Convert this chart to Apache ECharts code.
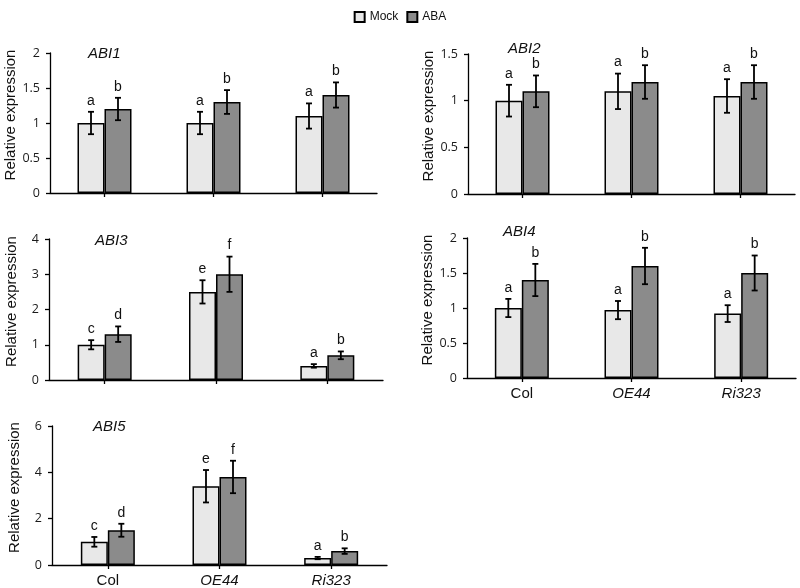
<!DOCTYPE html>
<html>
<head>
<meta charset="utf-8">
<script src="https://cdn.jsdelivr.net/npm/echarts@6/dist/echarts.min.js"></script>
<style>html,body{margin:0;padding:0;background:#fff}#c{width:800px;height:588px}</style>
</head>
<body>
<div id="c"></div>
<script>
const categories = ['Col', 'OE44', 'Ri323'];
const genes = ['ABI1', 'ABI2', 'ABI3', 'ABI4', 'ABI5'];
const seriesNames = ['Mock', 'ABA'];

const abi1Mock = [1.0, 1.0, 1.1];
const abi1MockErr = [0.16, 0.16, 0.18];
const abi1Aba = [1.2, 1.3, 1.4];
const abi1AbaErr = [0.16, 0.17, 0.18];
const abi1MockLetters = ['a', 'a', 'a'];
const abi1AbaLetters = ['b', 'b', 'b'];

const abi2Mock = [1.0, 1.1, 1.05];
const abi2MockErr = [0.17, 0.19, 0.18];
const abi2Aba = [1.1, 1.2, 1.2];
const abi2AbaErr = [0.17, 0.18, 0.18];
const abi2MockLetters = ['a', 'a', 'a'];
const abi2AbaLetters = ['b', 'b', 'b'];

const abi3Mock = [1.0, 2.5, 0.4];
const abi3MockErr = [0.13, 0.33, 0.05];
const abi3Aba = [1.3, 3.0, 0.7];
const abi3AbaErr = [0.22, 0.5, 0.11];
const abi3MockLetters = ['c', 'e', 'a'];
const abi3AbaLetters = ['d', 'f', 'b'];

const abi4Mock = [1.0, 0.97, 0.92];
const abi4MockErr = [0.13, 0.13, 0.12];
const abi4Aba = [1.4, 1.6, 1.5];
const abi4AbaErr = [0.23, 0.26, 0.25];
const abi4MockLetters = ['a', 'a', 'a'];
const abi4AbaLetters = ['b', 'b', 'b'];

const abi5Mock = [1.0, 3.4, 0.3];
const abi5MockErr = [0.21, 0.7, 0.05];
const abi5Aba = [1.5, 3.8, 0.6];
const abi5AbaErr = [0.28, 0.7, 0.12];
const abi5MockLetters = ['c', 'e', 'a'];
const abi5AbaLetters = ['d', 'f', 'b'];

const yMax = [2, 1.5, 4, 2, 6];
const yInterval = [0.5, 0.5, 1, 0.5, 2];

const panels = [
  [abi1Mock, abi1MockErr, abi1Aba, abi1AbaErr, abi1MockLetters, abi1AbaLetters],
  [abi2Mock, abi2MockErr, abi2Aba, abi2AbaErr, abi2MockLetters, abi2AbaLetters],
  [abi3Mock, abi3MockErr, abi3Aba, abi3AbaErr, abi3MockLetters, abi3AbaLetters],
  [abi4Mock, abi4MockErr, abi4Aba, abi4AbaErr, abi4MockLetters, abi4AbaLetters],
  [abi5Mock, abi5MockErr, abi5Aba, abi5AbaErr, abi5MockLetters, abi5AbaLetters]
];

// layout (style only)
const grids = [
  {left: 50, top: 53, width: 327, height: 140},
  {left: 468, top: 54, width: 327, height: 140},
  {left: 49, top: 239, width: 334, height: 141},
  {left: 467, top: 238, width: 329, height: 140},
  {left: 52, top: 426, width: 335, height: 140}
];
const titlePos = [
  {left: 88, top: 46}, {left: 508, top: 41}, {left: 95, top: 233},
  {left: 503, top: 224}, {left: 93, top: 419}
];
const showXLabels = [false, false, false, true, true];
const BAR_W = 27;
const colors = ['#e8e8e8', '#8b8b8b'];

const option = {
  animation: false,
  backgroundColor: '#fff',
  legend: {
    top: 6, left: 'center', icon: 'rect',
    itemWidth: 10, itemHeight: 10, itemGap: 8,
    data: seriesNames,
    textStyle: {fontFamily: 'Liberation Sans', fontSize: 12, color: '#111'}
  },
  title: genes.map((g, i) => ({
    text: g, left: titlePos[i].left, top: titlePos[i].top, padding: 0,
    textStyle: {fontFamily: 'Liberation Sans', fontStyle: 'italic', fontWeight: 'normal', fontSize: 15, color: '#111'}
  })),
  grid: grids.map(g => Object.assign({containLabel: false}, g)),
  xAxis: grids.map((g, i) => ({
    type: 'category', gridIndex: i, data: categories,
    axisLine: {show: true, lineStyle: {color: '#000', width: 1.3}},
    axisTick: {show: true, alignWithLabel: true, length: 4, lineStyle: {color: '#000', width: 1.3}},
    axisLabel: {
      show: showXLabels[i], margin: 8, fontSize: 15, color: '#111',
      formatter: v => v === 'Col' ? '{n|' + v + '}' : '{it|' + v + '}',
      rich: {
        n: {fontFamily: 'Liberation Sans', fontSize: 15, color: '#111'},
        it: {fontFamily: 'Liberation Sans', fontStyle: 'italic', fontSize: 15, color: '#111'}
      }
    }
  })),
  yAxis: grids.map((g, i) => ({
    type: 'value', gridIndex: i, min: 0, max: yMax[i], interval: yInterval[i],
    name: 'Relative expression', nameLocation: 'middle', nameGap: 30,
    nameTextStyle: {fontFamily: 'Liberation Sans', fontSize: 15, color: '#111', padding: [0, 0, 0, 16]},
    axisLine: {show: true, lineStyle: {color: '#000', width: 1.3}},
    axisTick: {show: true, length: 4, lineStyle: {color: '#000', width: 1.3}},
    axisLabel: {margin: 10, fontFamily: 'Open Sans', fontSize: 12.5, color: '#1a1a1a'},
    splitLine: {show: false}
  })),
  series: []
};

panels.forEach((p, i) => {
  const [mv, me, av, ae, ml, al] = p;
  option.series.push({
    name: 'Mock', type: 'bar', xAxisIndex: i, yAxisIndex: i, data: mv,
    barWidth: BAR_W, barGap: '0%',
    itemStyle: {color: colors[0], borderColor: '#000', borderWidth: 1.5}
  });
  option.series.push({
    name: 'ABA', type: 'bar', xAxisIndex: i, yAxisIndex: i, data: av,
    barWidth: BAR_W, barGap: '0%',
    itemStyle: {color: colors[1], borderColor: '#000', borderWidth: 1.5}
  });
  const errData = [];
  categories.forEach((c, k) => {
    errData.push([k, mv[k], me[k], -1, ml[k]]);
    errData.push([k, av[k], ae[k], 1, al[k]]);
  });
  option.series.push({
    type: 'custom', xAxisIndex: i, yAxisIndex: i, silent: true, z: 10,
    data: errData,
    renderItem: (params, api) => {
      const k = api.value(0), v = api.value(1), e = api.value(2), side = api.value(3);
      const letter = errData[params.dataIndex][4];
      const top = api.coord([k, v + e]);
      const bot = api.coord([k, v - e]);
      const x = top[0] + side * BAR_W / 2;
      const cap = 3;
      const st = {stroke: '#000', lineWidth: 1.8};
      return {
        type: 'group',
        children: [
          {type: 'line', shape: {x1: x, y1: top[1], x2: x, y2: bot[1]}, style: st},
          {type: 'line', shape: {x1: x - cap, y1: top[1], x2: x + cap, y2: top[1]}, style: st},
          {type: 'line', shape: {x1: x - cap, y1: bot[1], x2: x + cap, y2: bot[1]}, style: st},
          {type: 'text', style: {x: x, y: top[1] - 4, text: letter, align: 'center', verticalAlign: 'bottom',
            fontFamily: 'Liberation Sans', fontSize: 14, fill: '#111'}}
        ]
      };
    }
  });
});

const chart = echarts.init(document.getElementById('c'), null, {renderer: 'canvas'});
chart.setOption(option);
</script>
</body>
</html>
